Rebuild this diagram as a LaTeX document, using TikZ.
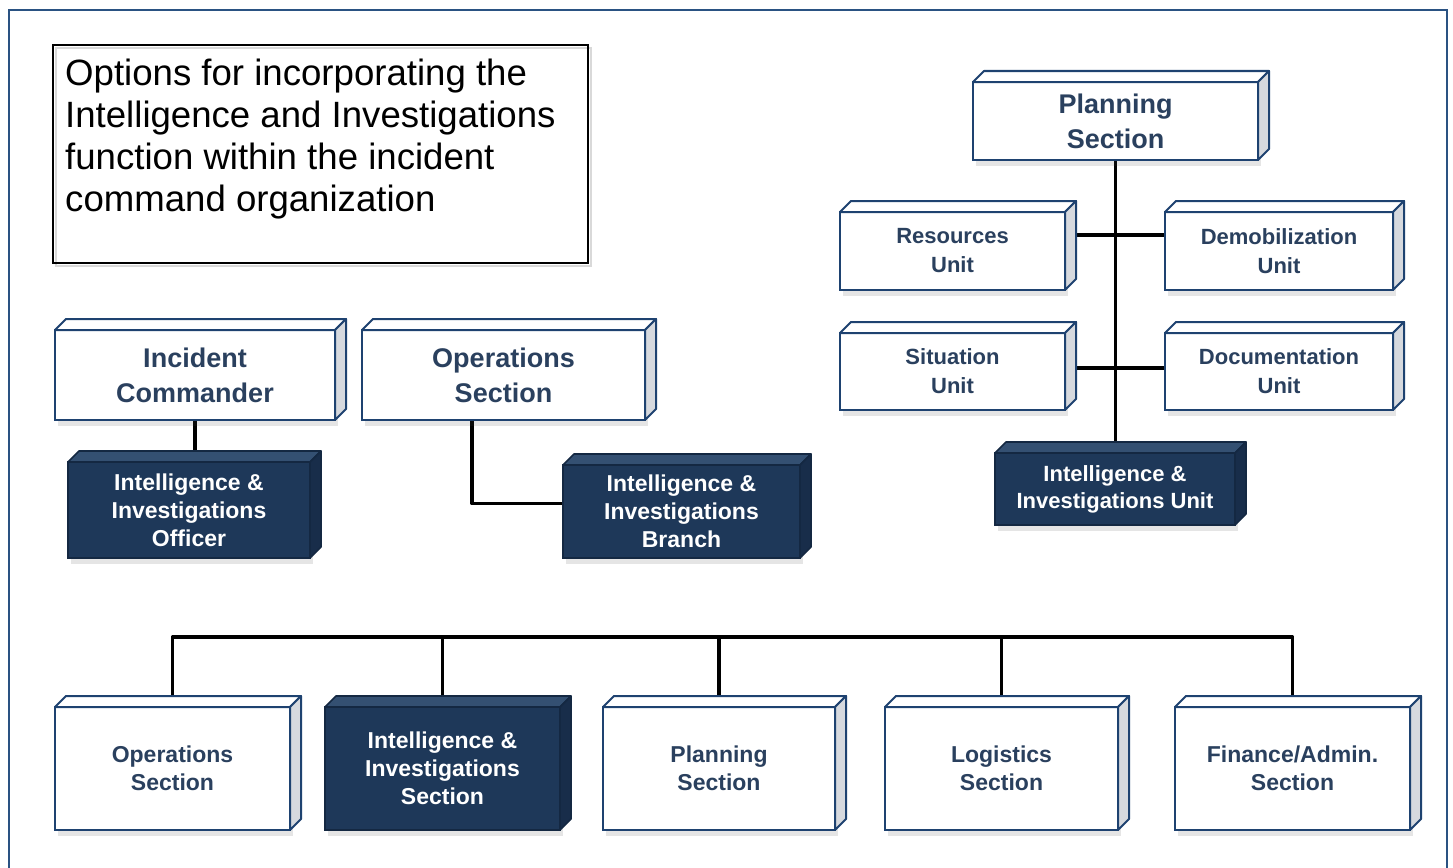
\documentclass[tikz,border=0pt]{standalone}
\usepackage{fontspec}
\setmainfont{Liberation Sans}
\usetikzlibrary{shadows,calc}
\definecolor{bordc}{RGB}{30,66,112}
\definecolor{txtc}{RGB}{42,64,94}
\definecolor{darkc}{RGB}{30,56,89}
\definecolor{darkbord}{RGB}{20,40,66}
\definecolor{darktop}{RGB}{52,80,114}
\definecolor{darkside}{RGB}{24,45,74}
\definecolor{sidec}{RGB}{214,217,222}
\definecolor{framec}{RGB}{42,82,130}
\pgfdeclarelayer{bg}
\pgfsetlayers{bg,main}
\newcommand\wfaces[1]{%
  \filldraw[fill=white,draw=bordc,line width=2pt,line join=round]
    (#1.north west) -- ++(11,-11) -- ([shift={(11,-11)}]#1.north east) -- (#1.north east) -- cycle;
  \filldraw[fill=sidec,draw=bordc,line width=2pt,line join=round]
    (#1.north east) -- ++(11,-11) -- ([shift={(11,-11)}]#1.south east) -- (#1.south east) -- cycle;}
\newcommand\dfaces[1]{%
  \filldraw[fill=darktop,draw=darkbord,line width=1.6pt,line join=round]
    (#1.north west) -- ++(11,-11) -- ([shift={(11,-11)}]#1.north east) -- (#1.north east) -- cycle;
  \filldraw[fill=darkside,draw=darkbord,line width=1.6pt,line join=round]
    (#1.north east) -- ++(11,-11) -- ([shift={(11,-11)}]#1.south east) -- (#1.south east) -- cycle;}
\tikzset{
  shad/.style={drop shadow={opacity=0.14,shadow xshift=3pt,shadow yshift=-6pt,fill=black!70}},
  wbox/.style={draw=bordc,line width=2.2pt,fill=white,text=txtc,align=center,outer sep=0pt,inner sep=0pt,shad},
  dbox/.style={draw=darkbord,line width=1.6pt,fill=darkc,text=white,align=center,outer sep=0pt,inner sep=0pt,shad},
  bigf/.style={font=\bfseries\fontsize{27}{35}\selectfont},
  midf/.style={font=\bfseries\fontsize{23}{28}\selectfont},
  unitf/.style={font=\bfseries\fontsize{22}{29}\selectfont},
  conn/.style={line width=3.8pt,black},
}
\begin{document}
\begin{tikzpicture}[x=1pt,y=-1pt]
\useasboundingbox (0,0) rectangle (1453,867);
\begin{pgfonlayer}{bg}
\fill[white] (0,0) rectangle (1453,867);
\end{pgfonlayer}
\draw[framec,line width=2pt] (9,880) -- (9,10) -- (1447,10) -- (1447,880);

% title box
\draw[black!15,line width=2pt] (56,48) rectangle (591,266);
\draw[black,line width=2.2pt] (53,45) rectangle (588,263);
\node[anchor=north west,inner sep=0pt,align=left,font=\fontsize{36.6}{42}\selectfont] (title) at (65,59)
  {Options for incorporating the\\Intelligence and Investigations\\function within the incident\\command organization};

% upper left group
\node[wbox,bigf,minimum width=280pt,minimum height=90pt] (ic) at (195,375) {Incident\\Commander};
\node[wbox,bigf,minimum width=283pt,minimum height=90pt] (ops1) at (503.5,375) {Operations\\Section};
\node[dbox,midf,minimum width=242pt,minimum height=96pt] (iio) at (189,510) {Intelligence \&\\Investigations\\Officer};
\node[dbox,midf,minimum width=237pt,minimum height=93pt] (iib) at (681.5,511.5) {Intelligence \&\\Investigations\\Branch};

% planning group
\node[wbox,bigf,minimum width=285pt,minimum height=78pt] (ps1) at (1115.5,121) {Planning\\Section};
\node[wbox,unitf,minimum width=225pt,minimum height=78pt] (ru) at (952.5,251) {Resources\\Unit};
\node[wbox,unitf,minimum width=228pt,minimum height=78pt] (du) at (1279,251) {Demobilization\\Unit};
\node[wbox,unitf,minimum width=225pt,minimum height=77pt] (su) at (952.5,371.5) {Situation\\Unit};
\node[wbox,unitf,minimum width=228pt,minimum height=77pt] (doc) at (1279,371.5) {Documentation\\Unit};
\node[dbox,font=\bfseries\fontsize{22}{27}\selectfont,minimum width=240pt,minimum height=72pt] (iiu) at (1115,489) {Intelligence \&\\Investigations Unit};

% bottom row
\node[wbox,midf,minimum width=235pt,minimum height=123pt] (b1) at (172.5,768.5) {Operations\\Section};
\node[dbox,midf,minimum width=235pt,minimum height=123pt] (b2) at (442.5,768.5) {Intelligence \&\\Investigations\\Section};
\node[wbox,midf,minimum width=232pt,minimum height=123pt] (b3) at (719,768.5) {Planning\\Section};
\node[wbox,midf,minimum width=233pt,minimum height=123pt] (b4) at (1001.5,768.5) {Logistics\\Section};
\node[wbox,midf,minimum width=235pt,minimum height=123pt] (b5) at (1292.5,768.5) {Finance/Admin.\\Section};

\foreach \n in {ic,ops1,ps1,ru,du,su,doc,b1,b3,b4,b5} {\wfaces{\n}}
\foreach \n in {iio,iib,iiu,b2} {\dfaces{\n}}

\coordinate (bus) at (0,637);
\begin{pgfonlayer}{bg}
  \draw[conn] (ic.south) -- (ic.south |- iio.north);
  \draw[conn,line join=round] ([xshift=-31.5pt]ops1.south) |- ([yshift=8pt]iib.west);
  \draw[conn] (ps1.south) -- (ps1.south |- iiu.north);
  \draw[conn] ([yshift=16pt]ru.east) -- ([yshift=16pt]du.west);
  \draw[conn] ([yshift=3.5pt]su.east) -- ([yshift=3.5pt]doc.west);
  \draw[conn,line join=round] (b1.north) -- (b1.north |- bus) -- (b5.north |- bus) -- (b5.north);
  \draw[conn] (b2.north) -- (b2.north |- bus);
  \draw[conn] (b3.north) -- (b3.north |- bus);
  \draw[conn] (b4.north) -- (b4.north |- bus);
\end{pgfonlayer}
\end{tikzpicture}
\end{document}
